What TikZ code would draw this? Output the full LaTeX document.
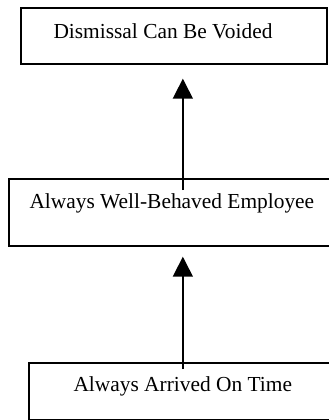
\documentclass[tikz,border=0pt]{standalone}
\usepackage{fontspec}
\setmainfont{Liberation Serif}
\usetikzlibrary{arrows.meta}
\begin{document}
\begin{tikzpicture}[x=1pt,y=-1pt,
  box/.style={draw=black, line width=1.7pt, rectangle, inner sep=0pt, anchor=north west},
  lbl/.style={inner sep=0pt, anchor=base west, font=\fontsize{21.4}{25}\selectfont},
  arr/.style={line width=1.6pt, -{Triangle[width=20pt,length=20pt]}}]
  \clip (0,0) rectangle (329,420);
  % boxes
  \node[box, minimum width=306pt, minimum height=56pt] (goal) at (20,7) {};
  \node[box, minimum width=348pt, minimum height=67pt] (mid) at (8,178) {};
  \node[box, minimum width=308pt, minimum height=57pt] (base) at (28,362) {};
  % captions
  \node[lbl] (goaltxt) at (53.3,38.3) {Dismissal Can Be Voided};
  \node[lbl] (midtxt) at (29.3,208.3) {Always Well-Behaved Employee};
  \node[lbl] (basetxt) at (73.3,391.7) {Always Arrived On Time};
  % supporting arrows
  \draw[arr, shorten >=14pt] ([yshift=-12pt]mid.north) -- (mid.north |- goal.south);
  \draw[arr, shorten >=10pt] ([yshift=-7pt]base.north) -- (base.north |- mid.south);
\end{tikzpicture}
\end{document}
